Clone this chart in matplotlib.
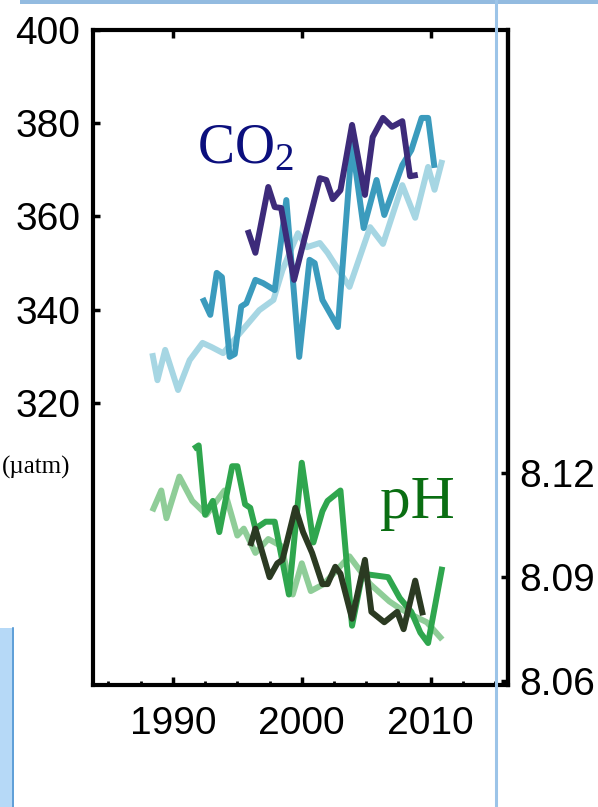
import matplotlib
matplotlib.use("Agg")
import matplotlib.pyplot as plt
from matplotlib.patches import Rectangle
from matplotlib.lines import Line2D
from matplotlib.ticker import MultipleLocator

plt.rcParams['font.family'] = ['Liberation Sans', 'DejaVu Sans']
plt.rcParams['mathtext.fontset'] = 'custom'
plt.rcParams['mathtext.rm'] = 'Liberation Serif'

# surface-ocean pCO2 (uatm), three time series
co2_light_yr = [1988.4, 1988.8, 1989.4, 1990.4, 1991.3, 1992.3, 1993.0, 1993.9, 1995.2, 1996.7,
                1997.8, 1998.5, 1999.7, 2000.4, 2001.4, 2002.0, 2003.2, 2003.7, 2005.3, 2006.3,
                2007.8, 2008.8, 2009.8, 2010.3, 2010.9]
co2_light = [330.7, 324.9, 331.4, 322.8, 329.2, 332.9, 332.0, 330.7, 335.0, 339.9,
             342.1, 348.5, 356.4, 353.4, 354.3, 352.2, 347.0, 344.9, 357.7, 354.1,
             366.7, 359.7, 370.6, 365.7, 372.1]

co2_mid_yr = [1992.3, 1992.9, 1993.4, 1993.8, 1994.4, 1994.8, 1995.3, 1995.7, 1996.4, 1997.0,
              1997.9, 1998.8, 1999.8, 2000.6, 2001.0, 2001.6, 2002.8, 2003.9, 2004.8, 2005.8,
              2006.4, 2007.8, 2008.5, 2009.3, 2009.8, 2010.3]
co2_mid = [342.5, 338.9, 347.9, 347.0, 329.9, 330.5, 340.7, 341.4, 346.4, 345.7,
           344.2, 363.5, 329.9, 350.7, 350.0, 342.1, 336.3, 375.7, 357.5, 367.8,
           360.3, 371.0, 374.2, 381.1, 381.1, 370.4]

co2_dark_yr = [1995.8, 1996.4, 1997.4, 1997.9, 1998.4, 1999.4, 2001.4, 2001.9, 2002.4, 2003.0,
               2003.9, 2004.9, 2005.5, 2006.3, 2007.0, 2007.8, 2008.4, 2009.0]
co2_dark = [357.1, 352.2, 366.3, 362.0, 361.8, 346.4, 368.2, 367.8, 363.7, 365.6,
            379.6, 364.6, 377.0, 381.1, 379.2, 380.4, 368.6, 368.9]

# surface-ocean pH, three time series
ph_light_yr = [1988.4, 1989.1, 1989.5, 1990.5, 1991.5, 1992.6, 1994.0, 1995.0, 1995.5, 1996.4,
               1997.4, 1998.4, 1999.3, 2000.0, 2000.7, 2001.7, 2003.7, 2005.3, 2006.8, 2007.6,
               2008.6, 2009.7, 2010.9]
ph_light = [8.109, 8.115, 8.107, 8.119, 8.112, 8.108, 8.115, 8.102, 8.104, 8.097,
            8.101, 8.099, 8.085, 8.094, 8.086, 8.088, 8.096, 8.088, 8.083, 8.081,
            8.079, 8.077, 8.072]

ph_mid_yr = [1991.6, 1992.0, 1992.5, 1993.1, 1993.6, 1994.6, 1995.0, 1995.6, 1996.0, 1996.4,
             1997.2, 1997.9, 1999.0, 2000.0, 2000.9, 2001.6, 2002.0, 2003.0, 2003.9, 2004.7,
             2006.7, 2007.6, 2008.5, 2009.2, 2009.8, 2010.9]
ph_mid = [8.127, 8.128, 8.108, 8.112, 8.103, 8.122, 8.122, 8.111, 8.110, 8.104,
          8.106, 8.106, 8.085, 8.123, 8.100, 8.109, 8.112, 8.115, 8.076, 8.091,
          8.090, 8.084, 8.080, 8.074, 8.071, 8.093]

ph_dark_yr = [1996.0, 1996.4, 1997.5, 1998.1, 1998.5, 1999.5, 2000.1, 2000.8, 2001.6, 2002.0,
              2002.6, 2003.0, 2003.9, 2004.9, 2005.4, 2006.4, 2007.4, 2007.9, 2008.8, 2009.4]
ph_dark = [8.099, 8.104, 8.090, 8.094, 8.095, 8.110, 8.103, 8.097, 8.088, 8.088,
           8.093, 8.091, 8.078, 8.095, 8.080, 8.077, 8.080, 8.075, 8.089, 8.079]

year_ticks = [1990, 2000, 2010]
co2_ticks = [320, 340, 360, 380, 400]
ph_ticks = [8.06, 8.09, 8.12]

W, H = 598, 807
fig = plt.figure(figsize=(W / 100, H / 100), dpi=100)
fig.patch.set_facecolor('white')

ax = fig.add_axes([93 / W, (H - 685) / H, 415 / W, 655.3 / H])
ax2 = ax.twinx()

lw = 4.3
kw = dict(lw=lw, solid_joinstyle='round', solid_capstyle='butt')
ax.plot(co2_light_yr, co2_light, color='#a6d6e3', **kw)
ax.plot(co2_mid_yr, co2_mid, color='#3b9bbd', **kw)
ax.plot(co2_dark_yr, co2_dark, color='#3d2b7a', **kw)
ax2.plot(ph_light_yr, ph_light, color='#8fcd98', **kw)
ax2.plot(ph_mid_yr, ph_mid, color='#2fa64e', **kw)
ax2.plot(ph_dark_yr, ph_dark, color='#2b3a22', **kw)

ax.set_xlim(1983.8, 2016.0)
ax.set_ylim(259.6, 400)
ax2.set_ylim(8.0589, 8.2479)

for a in (ax, ax2):
    for s in a.spines.values():
        s.set_linewidth(3)
ax2.spines['left'].set_visible(False)
ax2.spines['top'].set_visible(False)
ax2.spines['bottom'].set_visible(False)

ax.set_xticks(year_ticks)
ax.set_xticklabels([str(y) for y in year_ticks])
ax.xaxis.set_minor_locator(MultipleLocator(2.5))
ax.tick_params(axis='x', which='major', direction='in', length=6, width=2.5,
               top=True, labelsize=28, pad=15)
ax.tick_params(axis='x', which='minor', direction='in', length=3, width=2,
               top=False, bottom=True)

ax.set_yticks(co2_ticks)
ax.set_yticklabels([str(v) for v in co2_ticks])
ax.tick_params(axis='y', direction='in', length=5, width=2.5, labelsize=28,
               pad=9, right=False)

ax2.set_yticks(ph_ticks)
ax2.set_yticklabels(['%.2f' % v for v in ph_ticks])
ax2.tick_params(axis='y', direction='in', length=5, width=2.5, labelsize=28,
                pad=8, left=False)

ax.text(1991.9, 371.4, r'$\mathrm{CO_2}$', color='#0b0f7d', fontsize=40,
        ha='left', va='baseline', zorder=5)
ax2.text(2006.1, 8.107, 'pH', color='#0a6e12', fontsize=44,
         family='Liberation Serif', ha='left', va='baseline', zorder=5)
fig.text(70 / W, 1 - 474 / H, '(\u00b5atm)', fontsize=18, family='Liberation Serif',
         ha='right', va='baseline')

# slide decoration around the chart
fig.add_artist(Rectangle((20 / W, 1 - 4 / H), 578 / W, 4 / H, transform=fig.transFigure,
                         facecolor='#93bbe0', edgecolor='none', zorder=10))
fig.add_artist(Line2D([496 / W, 496 / W], [0, 1], transform=fig.transFigure,
                      color='#9cc4e8', lw=2.2, zorder=10))
fig.add_artist(Rectangle((0, 0), 14 / W, 179 / H, transform=fig.transFigure,
                         facecolor='#b6d9f7', edgecolor='none', zorder=10))
fig.add_artist(Line2D([13 / W, 13 / W], [0, 179 / H], transform=fig.transFigure,
                      color='#4f95d2', lw=1.2, zorder=10))

fig.savefig('out.png', dpi=100, facecolor='white')
